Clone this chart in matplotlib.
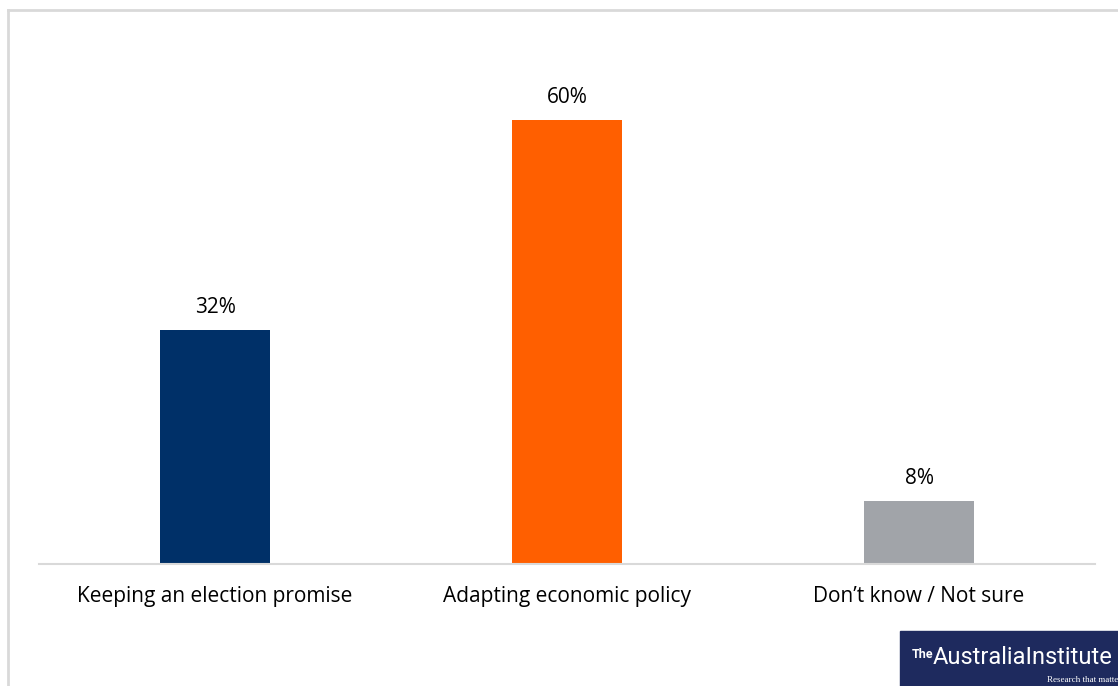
import numpy as np
from matplotlib import pyplot as plt
from matplotlib.patches import Rectangle
from matplotlib.lines import Line2D


#  -------------------------------------------  data  ------------------------------------------  #

categories = ["Keeping an election promise", "Adapting economic policy", "Don\u2019t know / Not sure"]
values = [31.6, 60.0, 8.5]
labels = ["32%", "60%", "8%"]
colors = ["#003068", "#ff5f00", "#a1a4a9"]


#  -------------------------------------------  plot  ------------------------------------------  #

plt.rcParams.update({"font.family": ["Open Sans", "DejaVu Sans"], "font.size": 15})

W, H = 1118, 686
fig = plt.figure(figsize=(W/100, H/100), dpi=100)
ax = fig.add_axes([39/W, 1 - 564/H, 1056/W, 524/H])

x = np.arange(len(categories))
bars = ax.bar(x, values, width=0.315, color=colors, zorder=2)

for xi, v, lab in zip(x, values, labels):
    ax.annotate(lab, (xi, v), xytext=(0, 8.5), textcoords="offset points",
                ha="center", va="bottom", fontsize=15, color="#000000")

ax.set_xlim(-0.5, len(categories) - 0.5)
ax.set_ylim(0, 70.8)
ax.set_yticks([])
ax.set_xticks(x)
ax.set_xticklabels(categories, fontsize=15, color="#000000")
ax.tick_params(axis="x", length=0, pad=16)

for s in ("top", "right", "left"):
    ax.spines[s].set_visible(False)
ax.spines["bottom"].set_color("#d9d9d9")
ax.spines["bottom"].set_linewidth(1.5)

# outer frame (only top and left visible, rest cropped)
fig.add_artist(Line2D([8/W, 8/W], [0, 1 - 10/H], color="#d9d9d9", lw=2, transform=fig.transFigure))
fig.add_artist(Line2D([8/W, 1], [1 - 10/H, 1 - 10/H], color="#d9d9d9", lw=2, transform=fig.transFigure))

# logo
fig.add_artist(Rectangle((900/W, 0), 218/W, 55/H, color="#1e2a5e", transform=fig.transFigure))
fig.text(912/W, 1 - 655/H, "The", color="white", fontsize=9, va="center", ha="left", weight="bold",
         family=["Roboto", "DejaVu Sans"])
fig.text(933/W, 1 - 657/H, "AustraliaInstitute", color="white", fontsize=17, va="center", ha="left",
         family=["Roboto", "DejaVu Sans"])
fig.text(1118/W, 1 - 680/H, "Research that matte", color="white", fontsize=6.5, va="center", ha="right",
         family=["Liberation Serif", "DejaVu Serif"])

plt.savefig("out.png", dpi=100)
